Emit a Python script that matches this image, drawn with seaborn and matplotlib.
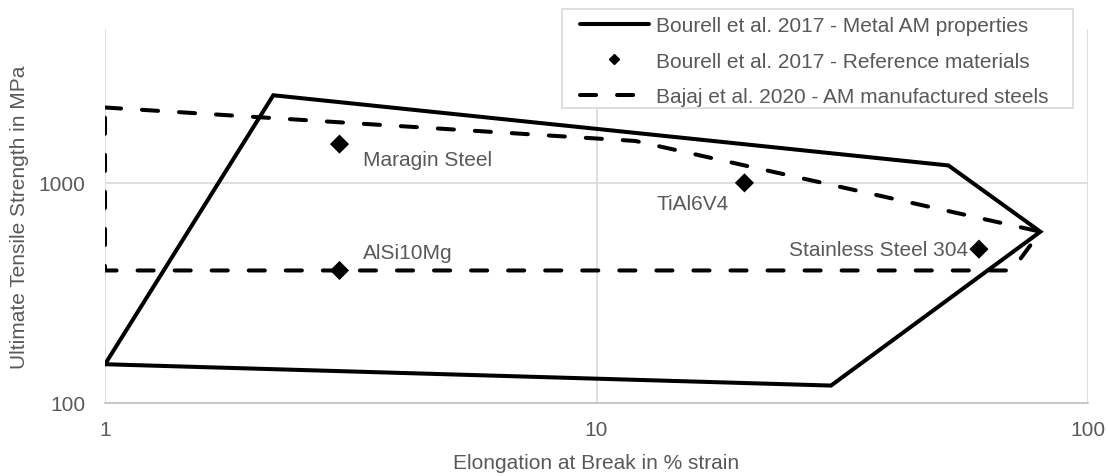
import matplotlib
matplotlib.use("Agg")
import matplotlib.pyplot as plt
from matplotlib.lines import Line2D
from matplotlib.patches import Rectangle
from matplotlib.ticker import FixedLocator, FixedFormatter, NullLocator
import seaborn as sns
import pandas as pd

# Envelope of metal AM properties (Bourell et al. 2017)
am_elong = [1, 2.2, 52, 80, 30, 1]
am_uts = [150, 2500, 1200, 600, 120, 150]

# Envelope of AM manufactured steels (Bajaj et al. 2020)
steel_elong = [1, 12, 80, 70, 1, 1]
steel_uts = [2200, 1550, 600, 400, 400, 2200]

# Reference materials
ref_names = ["Maragin Steel", "AlSi10Mg", "TiAl6V4", "Stainless Steel 304"]
ref_elong = [3, 3, 20, 60]
ref_uts = [1500, 400, 1000, 500]

legend_labels = [
    "Bourell et al. 2017 - Metal AM properties",
    "Bourell et al. 2017 - Reference materials",
    "Bajaj et al. 2020 - AM manufactured steels",
]

sns.set_theme(style="white")
plt.rcParams["font.family"] = ["Liberation Sans", "DejaVu Sans"]

TEXT = "#595959"
GRID = "#d9d9d9"
FS = 15
W, H = 1108, 477

fig = plt.figure(figsize=(W / 100, H / 100), dpi=100)
ax = fig.add_axes([105 / W, 1 - 404 / H, (1088 - 105) / W, (404 - 30) / H])

am_df = pd.DataFrame({"x": am_elong, "y": am_uts})
steel_df = pd.DataFrame({"x": steel_elong, "y": steel_uts})
ref_df = pd.DataFrame({"x": ref_elong, "y": ref_uts, "name": ref_names})

DASH = (0, (4, 5.2))
sns.lineplot(data=steel_df, x="x", y="y", sort=False, estimator=None, color="black",
             lw=2.9, linestyle=DASH, dash_capstyle="round", ax=ax, zorder=3)
sns.lineplot(data=am_df, x="x", y="y", sort=False, estimator=None, color="black",
             lw=2.9, solid_joinstyle="miter", ax=ax, zorder=4)
sns.scatterplot(data=ref_df, x="x", y="y", marker="D", s=95, color="black",
                edgecolor="none", ax=ax, zorder=5)

ax.set_xscale("log")
ax.set_yscale("log")
ax.set_xlim(1, 100)
ax.set_ylim(100, 5000)

ax.xaxis.set_major_locator(FixedLocator([1, 10, 100]))
ax.xaxis.set_major_formatter(FixedFormatter(["1", "10", "100"]))
ax.xaxis.set_minor_locator(NullLocator())
ax.yaxis.set_major_locator(FixedLocator([100, 1000]))
ax.yaxis.set_major_formatter(FixedFormatter(["100", "1000"]))
ax.yaxis.set_minor_locator(NullLocator())

ax.grid(True, which="major", color=GRID, lw=1.2)
ax.set_axisbelow(True)
for side in ["top", "right", "left"]:
    ax.spines[side].set_visible(False)
ax.spines["bottom"].set_color("#bfbfbf")
ax.spines["bottom"].set_linewidth(1.2)
ax.tick_params(axis="both", length=0, colors=TEXT, labelsize=FS)
ax.tick_params(axis="x", pad=12)
ax.tick_params(axis="y", pad=14)

ax.set_xlabel("Elongation at Break in % strain", color=TEXT, fontsize=FS, labelpad=10)
ax.set_ylabel("Ultimate Tensile Strength in MPa", color=TEXT, fontsize=FS, labelpad=7)

# Data labels next to the reference materials
offsets = {
    "Maragin Steel": ((17, -11), "left"),
    "AlSi10Mg": ((17, 13), "left"),
    "TiAl6V4": ((-11, -15), "right"),
    "Stainless Steel 304": ((-8, 0), "right"),
}
for name, x, y in zip(ref_names, ref_elong, ref_uts):
    (dx, dy), ha = offsets[name]
    ax.annotate(name, (x, y), xytext=(dx, dy), textcoords="offset points",
                ha=ha, va="center", color=TEXT, fontsize=FS)

# Legend with a square light-grey frame
handles = [
    Line2D([], [], color="black", lw=2.9),
    Line2D([], [], color="black", lw=0, marker="D", markersize=5.5),
    Line2D([], [], color="black", lw=2.9, linestyle=DASH, dash_capstyle="round"),
]
leg = fig.legend(handles, legend_labels, loc="upper left",
                 bbox_to_anchor=(580 / W, 1 - 17 / H), bbox_transform=fig.transFigure,
                 fontsize=FS, frameon=False, handlelength=3.3, handletextpad=0.33,
                 labelspacing=0.8, borderaxespad=0, borderpad=0)
for t in leg.get_texts():
    t.set_color(TEXT)
fig.patches.append(Rectangle((562 / W, 1 - 109 / H), (1073 - 562) / W, 99 / H,
                             transform=fig.transFigure, facecolor="white",
                             edgecolor=GRID, lw=1.2, zorder=1))

fig.savefig("out.png", dpi=100)
